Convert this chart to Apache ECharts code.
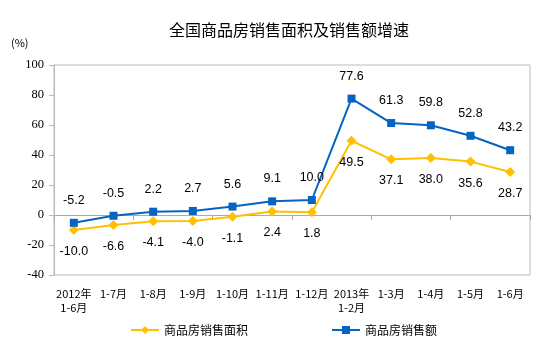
<!DOCTYPE html>
<html><head><meta charset="utf-8">
<script src="https://cdn.jsdelivr.net/npm/echarts@6/dist/echarts.min.js"></script>
<style>html,body{margin:0;padding:0;background:#fff}#c{width:554px;height:353px}</style>
</head><body><div id="c"></div>
<script>
var categories = ['2012年\n1-6月','1-7月','1-8月','1-9月','1-10月','1-11月','1-12月','2013年\n1-2月','1-3月','1-4月','1-5月','1-6月'];
var areaGrowth = [-10.0,-6.6,-4.1,-4.0,-1.1,2.4,1.8,49.5,37.1,38.0,35.6,28.7];
var salesGrowth = [-5.2,-0.5,2.2,2.7,5.6,9.1,10.0,77.6,61.3,59.8,52.8,43.2];
var yTicks = [-40,-20,0,20,40,60,80,100];
var seriesNames = ['商品房销售面积','商品房销售额'];

var chart = echarts.init(document.getElementById('c'));
chart.setOption({
  animation:false,
  title:{text:'全国商品房销售面积及销售额增速', left:284, textAlign:'center', top:17,
    textStyle:{fontFamily:'Noto Sans CJK SC', fontSize:16, fontWeight:'normal', color:'#000'}},
  graphic:[{type:'text', left:11, top:37, style:{text:'(%)', font:'11px "Noto Sans CJK SC"', fill:'#000'}}],
  legend:{bottom:12, left:125, itemGap:83, itemWidth:28, itemHeight:10,
    textStyle:{fontFamily:'Noto Sans CJK SC', fontSize:12, color:'#000'},
    data:[seriesNames[0], seriesNames[1]]},
  grid:{left:54, right:24, top:65, bottom:78, show:true, borderColor:'#bbb', borderWidth:1, containLabel:false},
  xAxis:[{type:'category', data:categories, boundaryGap:true,
      axisLine:{onZero:true, lineStyle:{color:'#aaa'}}, axisTick:{show:true, length:5, lineStyle:{color:'#aaa'}},
      axisLabel:{show:false}},
    {type:'category', data:categories, position:'bottom', boundaryGap:true,
      axisLine:{show:false}, axisTick:{show:false},
      axisLabel:{interval:0, margin:12, fontFamily:'Noto Sans CJK SC', fontSize:11, color:'#000', lineHeight:14}}],
  yAxis:{type:'value', min:yTicks[0], max:yTicks[yTicks.length-1], interval:20,
    axisLine:{show:true, lineStyle:{color:'#bbb'}}, axisTick:{show:true, length:5, lineStyle:{color:'#bbb'}},
    splitLine:{show:false},
    axisLabel:{margin:10, fontFamily:'Liberation Serif, Times New Roman', fontSize:12.5, color:'#000'}},
  series:[
    {name:seriesNames[0], type:'line', data:areaGrowth, xAxisIndex:0, symbol:'diamond', symbolSize:10,
      lineStyle:{color:'#FFC000', width:2}, itemStyle:{color:'#FFC000'},
      label:{show:true, position:'bottom', distance:10, formatter:function(p){return p.value.toFixed(1);}, fontFamily:'Liberation Sans, Arial', fontSize:12.5, color:'#000'}},
    {name:seriesNames[1], type:'line', data:salesGrowth, xAxisIndex:0, symbol:'rect', symbolSize:8,
      lineStyle:{color:'#0563C1', width:2}, itemStyle:{color:'#0563C1'},
      label:{show:true, position:'top', distance:12, formatter:function(p){return p.value.toFixed(1);}, fontFamily:'Liberation Sans, Arial', fontSize:12.5, color:'#000'}}
  ]
});
</script></body></html>
